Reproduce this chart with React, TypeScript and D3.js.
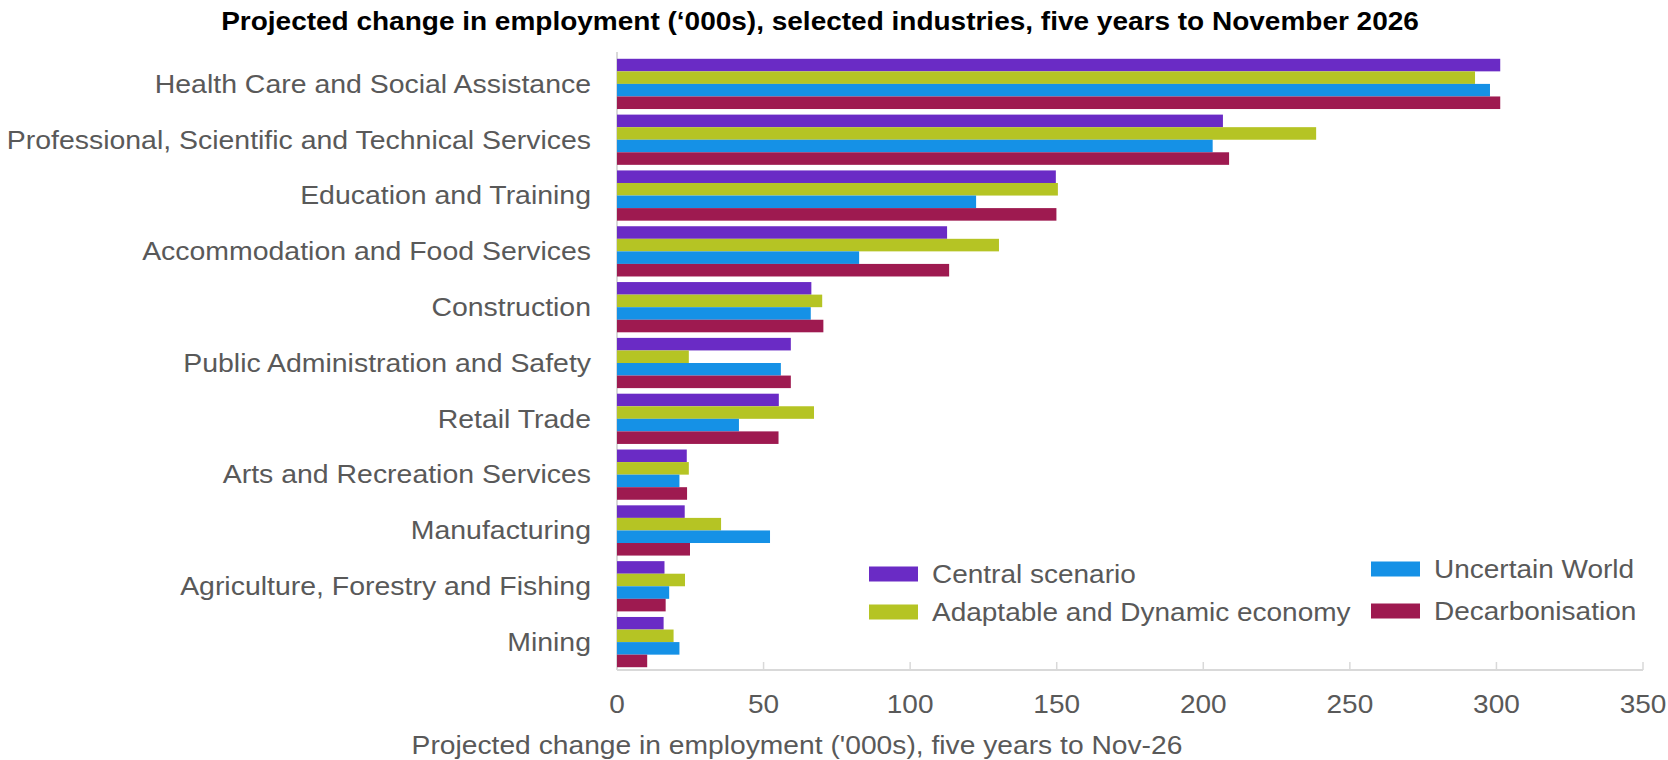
import React from "react";
import * as d3 from "d3";

const categories = [
  "Health Care and Social Assistance",
  "Professional, Scientific and Technical Services",
  "Education and Training",
  "Accommodation and Food Services",
  "Construction",
  "Public Administration and Safety",
  "Retail Trade",
  "Arts and Recreation Services",
  "Manufacturing",
  "Agriculture, Forestry and Fishing",
  "Mining",
];

const seriesNames = [
  "Central scenario",
  "Adaptable and Dynamic economy",
  "Uncertain World",
  "Decarbonisation",
];

const central = [301.3, 206.7, 149.7, 112.6, 66.3, 59.3, 55.2, 23.8, 23.1, 16.2, 15.9];
const adaptable = [292.7, 238.5, 150.4, 130.3, 70.0, 24.5, 67.2, 24.5, 35.5, 23.2, 19.3];
const uncertain = [297.8, 203.2, 122.5, 82.6, 66.1, 55.9, 41.6, 21.3, 52.2, 17.8, 21.3];
const decarbonisation = [301.3, 208.8, 149.9, 113.3, 70.4, 59.3, 55.1, 23.9, 24.9, 16.6, 10.3];

const xTicks = [0, 50, 100, 150, 200, 250, 300, 350];

const colors = ["#6A2BC5", "#B5C424", "#1591E6", "#9E1A50"];

const title =
  "Projected change in employment (\u2018000s), selected industries, five years to November 2026";
const xTitle = "Projected change in employment ('000s), five years to Nov-26";

const W = 1668;
const H = 760;
const SX = 1.12;
const FONT = "'Liberation Sans', Arial, sans-serif";
const GREY = "#595959";

export default function App() {
  const series = [central, adaptable, uncertain, decarbonisation];
  const x = d3.scaleLinear().domain([0, 350]).range([617, 1643]);
  const y = d3
    .scaleBand<string>()
    .domain(categories)
    .range([56, 670])
    .paddingInner(0.1)
    .paddingOuter(0.05);
  const inner = d3
    .scaleBand<string>()
    .domain(seriesNames)
    .range([0, y.bandwidth()]);

  const T = (props: {
    x: number;
    y: number;
    anchor?: string;
    size: number;
    weight?: string | number;
    fill?: string;
    children: React.ReactNode;
  }) => (
    <text
      transform={`translate(${props.x},${props.y}) scale(${SX},1)`}
      textAnchor={props.anchor || "start"}
      fontSize={props.size}
      fontWeight={props.weight || "normal"}
      fill={props.fill || GREY}
      fontFamily={FONT}
    >
      {props.children}
    </text>
  );

  const legendItems = [
    { i: 0, sx: 869, ty: 574 },
    { i: 1, sx: 869, ty: 612 },
    { i: 2, sx: 1371, ty: 569 },
    { i: 3, sx: 1371, ty: 611 },
  ];

  return (
    <svg
      width={W}
      height={H}
      style={{ position: "absolute", left: 0, top: 0, background: "#fff" }}
    >
      <T x={820} y={30} anchor="middle" size={25} weight="bold" fill="#000">
        {title}
      </T>

      {/* axes */}
      <line x1={617} x2={617} y1={52} y2={670} stroke="#d9d9d9" strokeWidth={2} />
      <line x1={617} x2={1643} y1={670} y2={670} stroke="#d9d9d9" strokeWidth={2} />
      {xTicks.map((t) => (
        <g key={t}>
          <line x1={x(t)} x2={x(t)} y1={662} y2={670} stroke="#d9d9d9" strokeWidth={1.5} />
          <T x={x(t)} y={713} anchor="middle" size={25}>
            {t}
          </T>
        </g>
      ))}

      {/* bars */}
      {categories.map((c, ci) => (
        <g key={c}>
          {series.map((s, si) => (
            <rect
              key={si}
              x={x(0)}
              y={(y(c) as number) + (inner(seriesNames[si]) as number)}
              width={x(s[ci]) - x(0)}
              height={inner.bandwidth()}
              fill={colors[si]}
            />
          ))}
          <T x={591} y={(y(c) as number) + y.bandwidth() / 2 + 8.8} anchor="end" size={25.4}>
            {c}
          </T>
        </g>
      ))}

      {/* legend */}
      {legendItems.map((l) => (
        <g key={l.i}>
          <rect x={l.sx} y={l.ty - 7.5} width={49} height={15} fill={colors[l.i]} />
          <T x={l.sx + 63} y={l.ty + 9} size={25}>
            {seriesNames[l.i]}
          </T>
        </g>
      ))}

      <T x={797} y={754} anchor="middle" size={25.2}>
        {xTitle}
      </T>
    </svg>
  );
}
